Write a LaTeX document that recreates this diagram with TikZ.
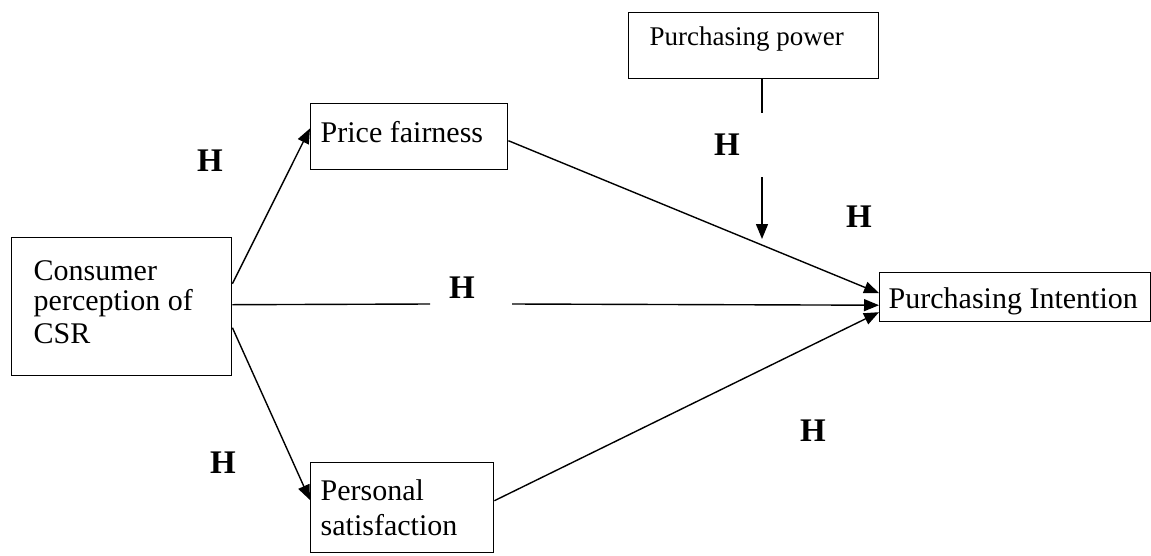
\documentclass[tikz,border=0pt]{standalone}
\usepackage{fontspec}
\setmainfont{Liberation Serif}
\usetikzlibrary{arrows.meta,calc}
\begin{document}
\begin{tikzpicture}[x=1pt,y=-1pt,line width=1.4pt,
  box/.style={draw,inner sep=0pt,anchor=north west},
  lbl/.style={anchor=base west,inner sep=0pt,font=\fontsize{30}{32}\selectfont},
  hyp/.style={inner sep=0pt,font=\fontsize{33}{33}\selectfont\bfseries},
  arr/.style={-{Triangle[length=15pt,width=12pt]}}]
\useasboundingbox (0,0) rectangle (1151,555);
% boxes
\node[box,minimum width=220pt,minimum height=138pt] (csr) at (11,237) {};
\node[box,minimum width=197pt,minimum height=66pt] (pf) at (310,103) {};
\node[box,minimum width=183pt,minimum height=90pt] (ps) at (310,462) {};
\node[box,minimum width=250pt,minimum height=66pt] (pp) at (628,12) {};
\node[box,minimum width=271pt,minimum height=49pt] (pi) at (879,272) {};
% texts
\node[lbl] (t1) at (33,280) {Consumer};
\node[lbl] (t2) at (33,310) {perception of};
\node[lbl] (t3) at (33,343) {CSR};
\node[lbl] (t4) at (320,142) {Price fairness};
\node[lbl] (t5) at (320,500) {Personal};
\node[lbl] (t6) at (320,535) {satisfaction};
\node[lbl,font=\fontsize{27}{30}\selectfont] (t7) at (649,45) {Purchasing power};
\node[lbl] (t8) at (888,308) {Purchasing Intention};
% hypothesis labels
\node[hyp] (h1) at (210,161) {H};
\node[hyp] (h2) at (727,145) {H};
\node[hyp] (h3) at (859,217) {H};
\node[hyp] (h4) at (462,288) {H};
\node[hyp] (h5) at (223,463) {H};
\node[hyp] (h6) at (813,431) {H};
% connectors
\coordinate (m1) at (430,304);
\coordinate (m2) at (512,304);
\coordinate (v1) at (762,113);
\coordinate (v2) at (762,177);
\coordinate (v3) at (762,239);
\draw[arr] ($(csr.east)+(0,-23)$) -- ($(pf.south west)+(0,-42)$);
\draw[arr] ($(csr.east)+(0,21)$) -- ($(ps.north west)+(0,38)$);
\draw ($(csr.east)+(0,-2)$) -- (m1);
\draw[arr] (m2) -- ($(pi.west)+(0,8)$);
\draw[arr] ($(pf.east)+(0,4)$) -- ($(pi.west)+(0,-4)$);
\draw[arr] ($(ps.east)+(0,-7)$) -- ($(pi.west)+(0,15)$);
\draw ($(pp.south west)+(134,0)$) -- (v1);
\draw[arr] (v2) -- (v3);
\end{tikzpicture}
\end{document}
